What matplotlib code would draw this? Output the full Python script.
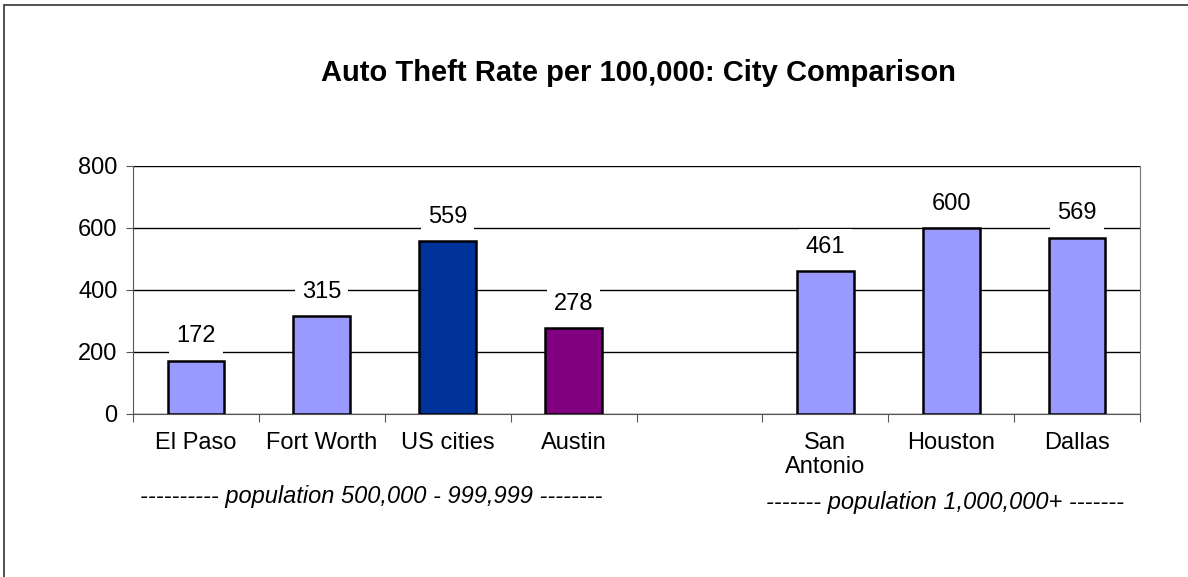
import numpy as np
import matplotlib.pyplot as plt
from matplotlib.patches import Rectangle

plt.rcParams['font.family'] = ['Liberation Sans', 'DejaVu Sans']

cities = ["El Paso", "Fort Worth", "US cities", "Austin", "", "San\nAntonio", "Houston", "Dallas"]
rates = [172, 315, 559, 278, None, 461, 600, 569]
colors = ["#9999FF", "#9999FF", "#003399", "#800080", "white", "#9999FF", "#9999FF", "#9999FF"]
group_labels = ["---------- population 500,000 - 999,999 --------",
                "------- population 1,000,000+ -------"]

fig = plt.figure(figsize=(11.88, 5.77), dpi=100)
ax = fig.add_axes([133/1188, 1 - 414/577, (1140-133)/1188, (414-166)/577])

# outer frame of the chart (only left and top visible in the picture)
fig.patches.append(Rectangle((4/1188, -0.1), 1.2, 1 - 5/577 + 0.1, transform=fig.transFigure,
                             facecolor='none', edgecolor='#333333', linewidth=1.2))

x = np.arange(len(cities))
for i, (v, c) in enumerate(zip(rates, colors)):
    if v is None:
        continue
    ax.bar(x[i], v, width=0.45, color=c, edgecolor='black', linewidth=1.8, zorder=3)
    ax.text(x[i], v + 78, str(v), ha='center', va='center', fontsize=17, zorder=4,
            bbox=dict(facecolor='white', edgecolor='none', pad=5))

ax.set_xlim(-0.5, len(cities) - 0.5)
ax.set_ylim(0, 800)
ax.set_yticks([0, 200, 400, 600, 800])
ax.yaxis.grid(True, color='black', linewidth=1.0, zorder=0)
ax.set_axisbelow(True)

ax.set_xticks(np.arange(len(cities) + 1) - 0.5)
ax.set_xticklabels([])
ax.set_xticks(x, minor=True)
ax.set_xticklabels(cities, minor=True, fontsize=17, linespacing=1.12)
ax.tick_params(axis='x', which='major', length=6, color='#555555')
ax.tick_params(axis='x', which='minor', length=0, pad=13)
ax.tick_params(axis='y', length=5, labelsize=17, pad=6, color='#555555')
for lbl in ax.get_xticklabels(minor=True):
    lbl.set_verticalalignment('top')

ax.spines['top'].set_visible(False)
ax.spines['right'].set_color('#777777')
ax.spines['left'].set_color('#555555')
ax.spines['bottom'].set_color('#555555')

fig.text(638/1188, 1 - 73/577, "Auto Theft Rate per 100,000: City Comparison",
         ha='center', va='center', fontsize=21, fontweight='bold')
fig.text(371/1188, 1 - 497/577, group_labels[0], ha='center', va='center',
         fontsize=17, style='italic')
fig.text(945/1188, 1 - 502/577, group_labels[1], ha='center', va='center',
         fontsize=17, style='italic')

plt.savefig("out.png", dpi=100)
plt.close()
